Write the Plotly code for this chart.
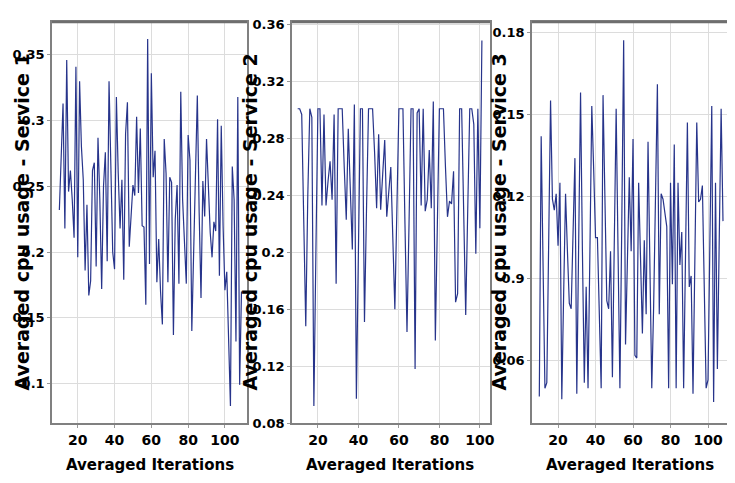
import plotly.graph_objects as go
from plotly.subplots import make_subplots

# averaged cpu usage per service
iters_1 = list(range(10, 110))
cpu_service_1 = [
    0.232, 0.27, 0.313, 0.218, 0.346, 0.246, 0.262, 0.24, 0.211, 0.341,
    0.196, 0.330, 0.28, 0.255, 0.186, 0.236, 0.167, 0.178, 0.262, 0.268,
    0.189, 0.287, 0.24, 0.172, 0.25, 0.276, 0.193, 0.330, 0.25, 0.20,
    0.187, 0.318, 0.26, 0.218, 0.255, 0.179, 0.29, 0.314, 0.204, 0.225,
    0.251, 0.243, 0.303, 0.245, 0.294, 0.22, 0.219, 0.160, 0.362, 0.191,
    0.336, 0.257, 0.277, 0.177, 0.210, 0.17, 0.145, 0.286, 0.26, 0.177,
    0.257, 0.253, 0.137, 0.225, 0.251, 0.176, 0.322, 0.24, 0.20, 0.176,
    0.289, 0.27, 0.140, 0.20, 0.25, 0.319, 0.23, 0.165, 0.254, 0.227,
    0.286, 0.25, 0.215, 0.196, 0.223, 0.216, 0.301, 0.182, 0.296, 0.22,
    0.171, 0.185, 0.13, 0.083, 0.265, 0.24, 0.132, 0.318, 0.099, 0.170,
]

iters_2 = list(range(10, 102))
cpu_service_2 = [
    0.301, 0.301, 0.297, 0.210, 0.148, 0.240, 0.301, 0.295, 0.092, 0.200,
    0.301, 0.301, 0.233, 0.297, 0.233, 0.250, 0.264, 0.237, 0.297, 0.178,
    0.301, 0.301, 0.301, 0.260, 0.223, 0.287, 0.240, 0.202, 0.304, 0.097,
    0.200, 0.301, 0.301, 0.151, 0.230, 0.301, 0.301, 0.301, 0.270, 0.231,
    0.283, 0.230, 0.255, 0.279, 0.225, 0.240, 0.260, 0.210, 0.160, 0.230,
    0.301, 0.301, 0.301, 0.220, 0.144, 0.220, 0.301, 0.301, 0.118, 0.298,
    0.301, 0.233, 0.301, 0.229, 0.237, 0.272, 0.231, 0.306, 0.138, 0.220,
    0.301, 0.301, 0.301, 0.260, 0.225, 0.236, 0.234, 0.257, 0.165, 0.171,
    0.301, 0.301, 0.230, 0.156, 0.230, 0.301, 0.301, 0.290, 0.199, 0.301,
    0.217, 0.349,
]

iters_3 = list(range(10, 109))
cpu_service_3 = [
    0.047, 0.142, 0.095, 0.050, 0.052, 0.105, 0.155, 0.119, 0.115, 0.121,
    0.102, 0.125, 0.046, 0.085, 0.121, 0.100, 0.081, 0.079, 0.105, 0.134,
    0.048, 0.105, 0.158, 0.100, 0.052, 0.087, 0.050, 0.100, 0.153, 0.130,
    0.105, 0.105, 0.075, 0.050, 0.157, 0.120, 0.082, 0.079, 0.100, 0.054,
    0.105, 0.152, 0.100, 0.050, 0.110, 0.177, 0.066, 0.095, 0.127, 0.100,
    0.141, 0.062, 0.061, 0.125, 0.100, 0.070, 0.104, 0.077, 0.140, 0.095,
    0.050, 0.080, 0.120, 0.161, 0.077, 0.121, 0.119, 0.114, 0.109, 0.050,
    0.125, 0.088, 0.139, 0.050, 0.125, 0.095, 0.107, 0.050, 0.098, 0.147,
    0.087, 0.091, 0.048, 0.098, 0.147, 0.118, 0.119, 0.124, 0.090, 0.050,
    0.053, 0.100, 0.153, 0.045, 0.125, 0.057, 0.100, 0.152, 0.111,
]

x_ticks = [20, 40, 60, 80, 100]
y_ticks_1 = [0.1, 0.15, 0.2, 0.25, 0.3, 0.35]
y_labels_1 = ["0.1", "0.15", "0.2", "0.25", "0.3", "0.35"]
y_ticks_2 = [0.08, 0.12, 0.16, 0.2, 0.24, 0.28, 0.32, 0.36]
y_labels_2 = ["0.08", "0.12", "0.16", "0.2", "0.24", "0.28", "0.32", "0.36"]
y_ticks_3 = [0.06, 0.09, 0.12, 0.15, 0.18]
y_labels_3 = ["0.06", "0.9", "0.12", "0.15", "0.18"]

# the page body has an 8px margin, so the figure is drawn 8px in from the window corner
OFF = 8
W, H = 735 - OFF, 483 - OFF
LINE = "#27348b"
FONT = "DejaVu Sans"


def px(s):
    return (s - OFF) / W


def py(s):
    return 1 - (s - OFF) / H


fig = make_subplots(rows=1, cols=3)
for col, (xs, ys) in enumerate(
    [(iters_1, cpu_service_1), (iters_2, cpu_service_2), (iters_3, cpu_service_3)], start=1
):
    fig.add_trace(go.Scatter(
        x=xs, y=ys, mode="lines",
        line=dict(color=LINE, width=1.2),
        showlegend=False,
    ), row=1, col=col)

axis_common = dict(
    showline=True, mirror=True, linecolor="#808080", linewidth=1.5,
    showgrid=True, gridcolor="#dcdcdc", gridwidth=1,
    ticks="outside", ticklen=3, tickcolor="#999999",
    zeroline=False, automargin=False,
)
xtick_font = dict(family=FONT, size=14, color="black", weight="bold")
ytick_font = dict(family=FONT, size=13, color="black", weight="bold")

# panel placement in window pixels (left, right)
panels = [(52, 247), (292, 490), (532, 732)]
top, bottom = 22, 423
x_ranges = [[6, 112], [7.2, 105], [6.1, 112.8]]
y_ranges = [[0.07, 0.375], [0.08, 0.362], [0.0373, 0.1837]]
y_ticks = [(y_ticks_1, y_labels_1), (y_ticks_2, y_labels_2), (y_ticks_3, y_labels_3)]

for i, ((l, r), xr, yr, (tv, tt)) in enumerate(zip(panels, x_ranges, y_ranges, y_ticks), start=1):
    suffix = "" if i == 1 else str(i)
    fig.update_layout({
        f"xaxis{suffix}": dict(
            axis_common, domain=[px(l), px(r)], range=xr, tickvals=x_ticks,
            tickfont=xtick_font,
        ),
        f"yaxis{suffix}": dict(
            axis_common, domain=[py(bottom), py(top)], range=yr,
            tickvals=tv, ticktext=tt, tickfont=ytick_font,
        ),
    })
    # darker top spine, as in the original
    fig.add_shape(
        type="line", xref="paper", yref="paper",
        x0=px(l), x1=px(r), y0=py(top), y1=py(top),
        line=dict(color="#6e6e6e", width=2.5),
    )

title_font = dict(family=FONT, size=15, color="black", weight="bold")
ytitle_font = dict(family=FONT, size=19, color="black", weight="bold")
mid_y = py((top + bottom) / 2)
for n, (xt, yt) in enumerate(zip([150, 390, 630], [21, 249, 498]), start=1):
    fig.add_annotation(
        text="Averaged Iterations", xref="paper", yref="paper",
        x=px(xt), y=py(465), showarrow=False, font=title_font,
        xanchor="center", yanchor="middle",
    )
    fig.add_annotation(
        text=f"Averaged cpu usage - Service {n}", xref="paper", yref="paper",
        x=px(yt), y=mid_y, showarrow=False, font=ytitle_font, textangle=-90,
        xanchor="center", yanchor="middle",
    )

fig.update_layout(
    width=W, height=H,
    margin=dict(l=0, r=0, t=0, b=0),
    paper_bgcolor="white",
    plot_bgcolor="white",
)

fig.write_html("out.html")
